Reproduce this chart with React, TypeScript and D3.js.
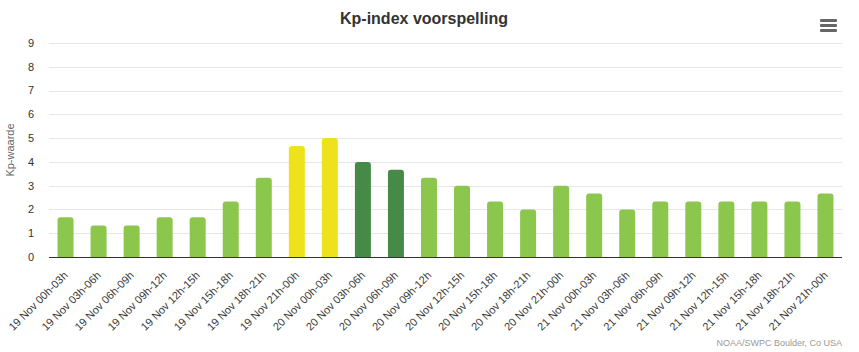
import React from 'react';
import * as d3 from 'd3';

// tijdvakken (3-uurs blokken)
const periods = [
  '19 Nov 00h-03h', '19 Nov 03h-06h', '19 Nov 06h-09h', '19 Nov 09h-12h',
  '19 Nov 12h-15h', '19 Nov 15h-18h', '19 Nov 18h-21h', '19 Nov 21h-00h',
  '20 Nov 00h-03h', '20 Nov 03h-06h', '20 Nov 06h-09h', '20 Nov 09h-12h',
  '20 Nov 12h-15h', '20 Nov 15h-18h', '20 Nov 18h-21h', '20 Nov 21h-00h',
  '21 Nov 00h-03h', '21 Nov 03h-06h', '21 Nov 06h-09h', '21 Nov 09h-12h',
  '21 Nov 12h-15h', '21 Nov 15h-18h', '21 Nov 18h-21h', '21 Nov 21h-00h',
];

const kpValues = [
  1.67, 1.33, 1.33, 1.67, 1.67, 2.33, 3.33, 4.67,
  5.0, 4.0, 3.67, 3.33, 3.0, 2.33, 2.0, 3.0,
  2.67, 2.0, 2.33, 2.33, 2.33, 2.33, 2.33, 2.67,
];

const yTicks = [0, 1, 2, 3, 4, 5, 6, 7, 8, 9];

const W = 859;
const H = 352;
const margin = { top: 43, right: 17, bottom: 95, left: 49 };

const barColor = (v: number) => {
  if (v >= 4.5) return '#eee21c';
  if (v >= 3.5) return '#468a48';
  return '#8bc74c';
};

// bar with rounded top corners
const barPath = (x: number, y: number, w: number, h: number, r: number) => {
  const rr = Math.min(r, h);
  return `M${x},${y + h}V${y + rr}Q${x},${y} ${x + rr},${y}H${x + w - rr}Q${x + w},${y} ${x + w},${y + rr}V${y + h}Z`;
};

export default function App() {
  const font = '"Liberation Sans", Arial, sans-serif';
  const plotW = W - margin.left - margin.right;
  const plotH = H - margin.top - margin.bottom;

  const x = d3.scaleBand<string>().domain(periods).range([0, plotW]);
  const y = d3.scaleLinear().domain([0, 9]).range([plotH, 0]);
  const bw = 16;

  return (
    <svg width={W} height={H} style={{ position: 'absolute', left: 0, top: 0, fontFamily: font }}>
      <rect width={W} height={H} fill="#fff" />
      <text x={424} y={24} textAnchor="middle" fontSize={16} fontWeight="bold" fill="#333">
        Kp-index voorspelling
      </text>

      {/* menu knop */}
      <g fill="#666">
        <rect x={820} y={19} width={17} height={3} rx={1} />
        <rect x={820} y={24} width={17} height={3} rx={1} />
        <rect x={820} y={29} width={17} height={3} rx={1} />
      </g>

      <text
        transform={`translate(14,${margin.top + plotH / 2}) rotate(-90)`}
        textAnchor="middle"
        fontSize={11}
        fill="#666"
      >
        Kp-waarde
      </text>

      <g transform={`translate(${margin.left},${margin.top})`}>
        {yTicks.map((t) => (
          <g key={t}>
            {t > 0 && (
              <line x1={0} x2={plotW} y1={Math.round(y(t)) + 0.5} y2={Math.round(y(t)) + 0.5} stroke="#e6e6e6" />
            )}
            <text x={-15} y={y(t)} dy="0.35em" textAnchor="end" fontSize={11} fill="#333">
              {t}
            </text>
          </g>
        ))}

        {periods.map((p, i) => {
          const v = kpValues[i];
          const cx = (x(p) as number) + x.bandwidth() / 2;
          return (
            <path
              key={p}
              d={barPath(cx - bw / 2, y(v), bw, plotH - y(v), 3)}
              fill={barColor(v)}
            />
          );
        })}

        <line x1={0} x2={plotW} y1={plotH + 0.5} y2={plotH + 0.5} stroke="#333" />

        {periods.map((p) => {
          const cx = (x(p) as number) + x.bandwidth() / 2;
          return (
            <text
              key={p}
              transform={`translate(${cx + 3},${plotH + 19}) rotate(-45)`}
              textAnchor="end"
              fontSize={11}
              fill="#3a3a3a"
            >
              {p}
            </text>
          );
        })}
      </g>

      <text x={842} y={346} textAnchor="end" fontSize={9} fill="#999">
        NOAA/SWPC Boulder, Co USA
      </text>
    </svg>
  );
}
